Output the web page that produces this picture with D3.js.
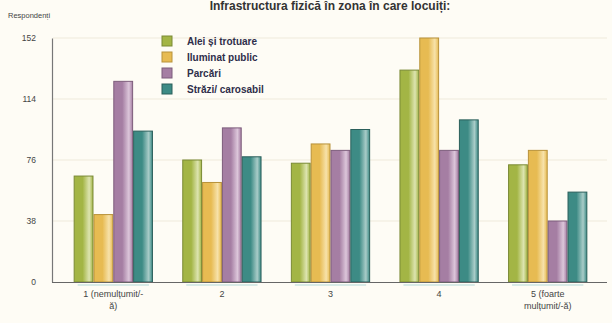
<!DOCTYPE html>
<html>
<head>
<meta charset="utf-8">
<script src="https://cdn.jsdelivr.net/npm/d3@7"></script>
<style>
  body { margin: 0; background: #fefcf5; }
  svg { display: block; font-family: "Liberation Sans", Arial, sans-serif; }
</style>
</head>
<body>
<svg id="chart"></svg>
<script>
// Infrastructura fizică – satisfacție pe scala 1..5
const categorii = [["1 (nemulțumit/-", "ă)"], ["2"], ["3"], ["4"], ["5 (foarte", "mulțumit/-ă)"]];
const serii = ["Alei și trotuare", "Iluminat public", "Parcări", "Străzi/ carosabil"];
const aleiTrotuare = [66, 76, 74, 132, 73];
const iluminatPublic = [42, 62, 86, 152, 82];
const parcari = [125, 96, 82, 82, 38];
const straziCarosabil = [94, 78, 95, 101, 56];
const yTicks = [0, 38, 76, 114, 152];

const valori = [aleiTrotuare, iluminatPublic, parcari, straziCarosabil];
const culori = ["#a3b545", "#e7bb52", "#a57ea3", "#3d8b85"];
const deschise = ["#dde4b0", "#f7e2aa", "#dcc6da", "#a9ccc8"];
const contur = ["#7a8a35", "#b8923a", "#7d5d7c", "#2b5f5b"];

const width = 612, height = 323;
const svg = d3.select("#chart").attr("width", width).attr("height", height);

const defs = svg.append("defs");
serii.forEach((s, i) => {
  const gr = defs.append("linearGradient").attr("id", "g" + i)
    .attr("x1", "0%").attr("x2", "100%").attr("y1", "0%").attr("y2", "0%");
  gr.append("stop").attr("offset", "0%").attr("stop-color", culori[i]);
  gr.append("stop").attr("offset", "45%").attr("stop-color", culori[i]);
  gr.append("stop").attr("offset", "80%").attr("stop-color", deschise[i]);
  gr.append("stop").attr("offset", "100%").attr("stop-color", culori[i]);
});

const x = d3.scaleBand()
  .domain(d3.range(categorii.length))
  .range([59, 602])
  .paddingInner(0.27)
  .paddingOuter(0.135);

const xs = d3.scaleBand()
  .domain(d3.range(serii.length))
  .range([0, x.bandwidth()]);

const y = d3.scaleLinear().domain([0, 152]).range([282, 38]);

// grila
svg.append("g").selectAll("line")
  .data(yTicks.slice(1))
  .join("line")
  .attr("x1", 53).attr("x2", 607)
  .attr("y1", d => y(d)).attr("y2", d => y(d))
  .attr("stroke", "#efeadb").attr("stroke-width", 1);

// axa Y
const yAxis = svg.append("g")
  .attr("transform", "translate(52,0)")
  .call(d3.axisLeft(y).tickValues(yTicks).tickSize(0).tickPadding(16));
yAxis.select(".domain").attr("stroke", "#777").attr("stroke-width", 1.2);
yAxis.selectAll("text").attr("font-size", 8.5).attr("fill", "#444");

svg.append("text")
  .attr("x", 8).attr("y", 18)
  .attr("font-size", 7.5).attr("fill", "#444")
  .text("Respondenți");

// bare
const grupuri = svg.append("g").selectAll("g")
  .data(categorii.map((c, ci) => ci))
  .join("g")
  .attr("transform", ci => `translate(${x(ci)},0)`);

grupuri.selectAll("rect")
  .data(ci => valori.map((v, si) => ({ si, v: v[ci] })))
  .join("rect")
  .attr("x", d => xs(d.si) + 0.5)
  .attr("y", d => y(d.v))
  .attr("width", xs.bandwidth() - 1)
  .attr("height", d => y(0) - y(d.v))
  .attr("fill", d => `url(#g${d.si})`)
  .attr("stroke", d => contur[d.si])
  .attr("stroke-width", 1);

// linii decorative sub axa
svg.append("g").selectAll("line")
  .data(categorii.map((c, ci) => ci))
  .join("line")
  .attr("x1", ci => x(ci) + 4).attr("x2", ci => x(ci) + x.bandwidth() - 4)
  .attr("y1", 285).attr("y2", 285)
  .attr("stroke", "#cfe8e4").attr("stroke-width", 2).attr("opacity", 0.8);

// axa X
svg.append("line")
  .attr("x1", 52).attr("x2", 607)
  .attr("y1", 282.5).attr("y2", 282.5)
  .attr("stroke", "#666").attr("stroke-width", 1.2);

svg.append("g").selectAll("text")
  .data(categorii.map((c, ci) => ci))
  .join("text")
  .attr("text-anchor", "middle")
  .attr("font-size", 9).attr("fill", "#444")
  .attr("transform", ci => `translate(${x(ci) + x.bandwidth() / 2},297)`)
  .selectAll("tspan")
  .data(ci => categorii[ci])
  .join("tspan")
  .attr("x", 0)
  .attr("dy", (d, i) => i ? 12 : 0)
  .text(d => d);

// legenda
const leg = svg.append("g").selectAll("g")
  .data(serii)
  .join("g")
  .attr("transform", (d, i) => `translate(162,${36 + i * 16})`);
leg.append("rect")
  .attr("width", 10).attr("height", 10)
  .attr("fill", (d, i) => culori[i])
  .attr("stroke", (d, i) => contur[i]);
leg.append("text")
  .attr("x", 25).attr("y", 9)
  .attr("font-size", 10).attr("font-weight", "bold").attr("fill", "#2e2e4a")
  .text(d => d);

// titlu
svg.append("text")
  .attr("x", 330).attr("y", 10)
  .attr("text-anchor", "middle")
  .attr("font-size", 12).attr("font-weight", "bold").attr("fill", "#333")
  .text("Infrastructura fizică în zona în care locuiți:");
</script>
</body>
</html>
